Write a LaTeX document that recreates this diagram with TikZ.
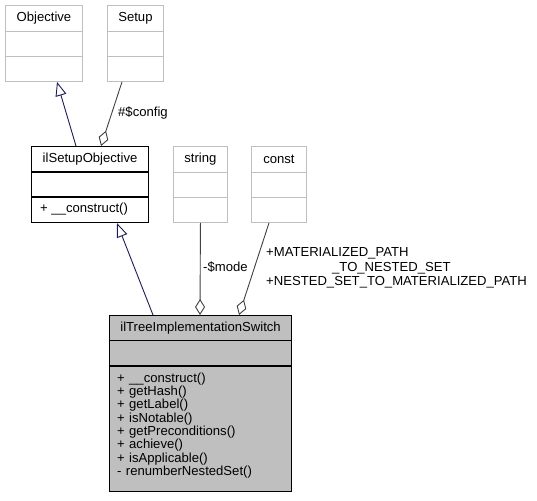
\documentclass[tikz,border=0pt]{standalone}
\usepackage{fontspec}
\setmainfont{Liberation Sans}
\usetikzlibrary{arrows.meta}
\definecolor{edgegray}{HTML}{404040}
\definecolor{boxgray}{HTML}{BFBFBF}
\definecolor{navyedge}{HTML}{191970}
\begin{document}
\begin{tikzpicture}[x=1pt,y=-1pt,
  every node/.style={font=\fontsize{13.1}{13.3}\selectfont, inner sep=0pt},
  ghostbox/.style={draw=boxgray, fill=white, line width=0.9pt, anchor=north west},
  realbox/.style={draw=black, fill=white, line width=1.1pt, anchor=north west},
  mainbox/.style={draw=black, fill=boxgray, line width=1.1pt, anchor=north west},
  inherit/.style={draw=navyedge, line width=0.9pt, -{Triangle[open, length=14pt, width=11pt, fill=white]}},
  aggreg/.style={draw=edgegray, line width=0.9pt, {Diamond[open, length=16pt, width=10pt, fill=white]}-},
  lbl/.style={anchor=west}
]
\useasboundingbox (0,0) rectangle (537,500);

% Objective
\node[ghostbox, minimum width=77pt, minimum height=76pt] (obj) at (5,5) {};
\node (objT) at ([yshift=-13.5pt]obj.north) {Objective};
\draw[boxgray, line width=0.9pt] ([yshift=-26.5pt]obj.north west) -- ([yshift=-26.5pt]obj.north east);
\draw[boxgray, line width=0.9pt] ([yshift=-51.5pt]obj.north west) -- ([yshift=-51.5pt]obj.north east);

% Setup
\node[ghostbox, minimum width=56pt, minimum height=76pt] (setup) at (107,5) {};
\node (setupT) at ([yshift=-13.5pt]setup.north) {Setup};
\draw[boxgray, line width=0.9pt] ([yshift=-26.5pt]setup.north west) -- ([yshift=-26.5pt]setup.north east);
\draw[boxgray, line width=0.9pt] ([yshift=-51.5pt]setup.north west) -- ([yshift=-51.5pt]setup.north east);

% ilSetupObjective
\node[realbox, minimum width=117pt, minimum height=76pt] (iso) at (31,146) {};
\node (isoT) at ([yshift=-13pt]iso.north) {ilSetupObjective};
\draw[black, line width=1.1pt] ([yshift=-26pt]iso.north west) -- ([yshift=-26pt]iso.north east);
\draw[black, line width=1.1pt] ([yshift=-51pt]iso.north west) -- ([yshift=-51pt]iso.north east);
\node[anchor=west] (isoM) at ([xshift=9pt,yshift=-63.5pt]iso.north west) {+ \_\_construct()};

% string
\node[ghostbox, minimum width=54pt, minimum height=76pt] (str) at (173,146) {};
\node (strT) at ([yshift=-13pt]str.north) {string};
\draw[boxgray, line width=0.9pt] ([yshift=-26pt]str.north west) -- ([yshift=-26pt]str.north east);
\draw[boxgray, line width=0.9pt] ([yshift=-51pt]str.north west) -- ([yshift=-51pt]str.north east);

% const
\node[ghostbox, minimum width=55pt, minimum height=76pt] (cst) at (251,146) {};
\node (cstT) at ([yshift=-13pt]cst.north) {const};
\draw[boxgray, line width=0.9pt] ([yshift=-26pt]cst.north west) -- ([yshift=-26pt]cst.north east);
\draw[boxgray, line width=0.9pt] ([yshift=-51pt]cst.north west) -- ([yshift=-51pt]cst.north east);

% ilTreeImplementationSwitch
\node[mainbox, minimum width=182pt, minimum height=176pt] (tree) at (109,315) {};
\node (treeT) at ([yshift=-13pt]tree.north) {ilTreeImplementationSwitch};
\draw[black, line width=1.1pt] ([yshift=-25.5pt]tree.north west) -- ([yshift=-25.5pt]tree.north east);
\draw[black, line width=1.1pt] ([yshift=-51pt]tree.north west) -- ([yshift=-51pt]tree.north east);
\node[anchor=base west, text width=170pt, align=left] (treeM) at ([xshift=8pt,yshift=-67.3pt]tree.north west)
  {+ \_\_construct()\\+ getHash()\\+ getLabel()\\+ isNotable()\\+ getPreconditions()\\+ achieve()\\+ isApplicable()\\- renumberNestedSet()};

% connectors
\draw[inherit] ([xshift=45pt]iso.north west) -- ([xshift=52pt]obj.south west);
\draw[aggreg] ([xshift=70pt]iso.north west) -- ([xshift=15pt]setup.south west);
\draw[inherit] ([xshift=44pt]tree.north west) -- ([xshift=86pt]iso.south west);
\draw[aggreg] ([xshift=91pt]tree.north west) -- (str.south);
\draw[aggreg] ([xshift=130pt]tree.north west) -- ([xshift=18pt]cst.south west);

% labels
\node[lbl] (lcfg) at (118,113) {\#\$config};
\node[lbl] (lmode) at (203,267) {-\$mode};
\node[lbl, align=left, font=\fontsize{13.1}{14.5}\selectfont] (lconst) at (266,268)
  {+MATERIALIZED\_PATH\\\hspace*{66pt}\_TO\_NESTED\_SET\\+NESTED\_SET\_TO\_MATERIALIZED\_PATH};
\end{tikzpicture}
\end{document}
